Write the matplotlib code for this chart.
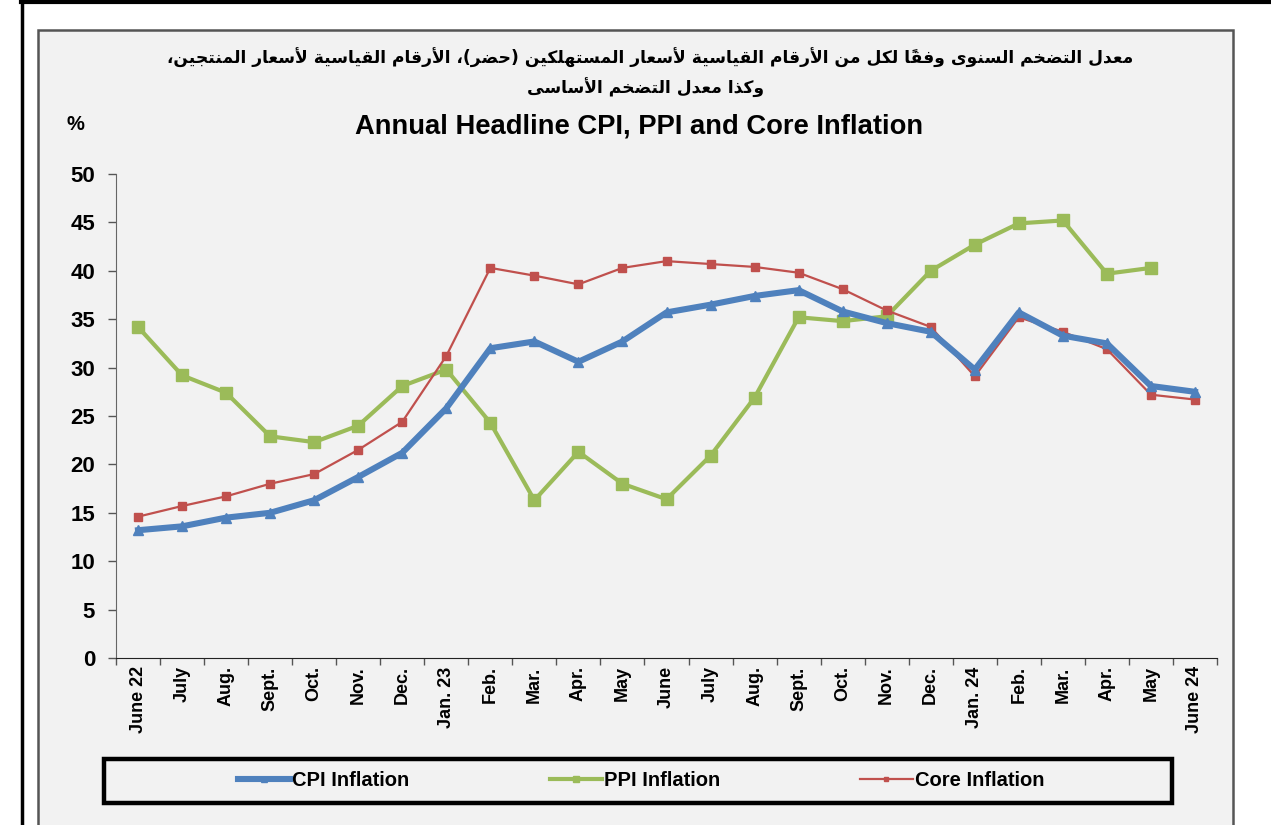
import numpy as np
import matplotlib
matplotlib.use("Agg")
import matplotlib.pyplot as plt
from matplotlib.patches import Rectangle
from matplotlib.lines import Line2D

# ---- data ----
months = ["June 22", "July", "Aug.", "Sept.", "Oct.", "Nov.", "Dec.", "Jan. 23",
          "Feb.", "Mar.", "Apr.", "May", "June", "July", "Aug.", "Sept.", "Oct.",
          "Nov.", "Dec.", "Jan. 24", "Feb.", "Mar.", "Apr.", "May", "June 24"]
cpi = [13.2, 13.6, 14.5, 15.0, 16.3, 18.7, 21.2, 25.8, 32.0, 32.7, 30.6, 32.7, 35.7,
       36.5, 37.4, 38.0, 35.8, 34.6, 33.7, 29.8, 35.7, 33.3, 32.5, 28.1, 27.5]
ppi = [34.2, 29.2, 27.4, 22.9, 22.3, 24.0, 28.1, 29.8, 24.3, 16.3, 21.3, 18.0, 16.4,
       20.9, 26.9, 35.2, 34.8, 35.3, 40.0, 42.7, 44.9, 45.2, 39.7, 40.3, np.nan]
core = [14.6, 15.7, 16.7, 18.0, 19.0, 21.5, 24.4, 31.2, 40.3, 39.5, 38.6, 40.3, 41.0,
        40.7, 40.4, 39.8, 38.1, 35.9, 34.2, 29.1, 35.2, 33.7, 31.9, 27.2, 26.7]

title_ar_1 = "معدل التضخم السنوى وفقاً لكل من الأرقام القياسية لأسعار المستهلكين (حضر)، الأرقام القياسية لأسعار المنتجين،"
title_ar_2 = "وكذا معدل التضخم الأساسى"
title_en = "Annual Headline CPI, PPI and Core Inflation"

# ---- minimal arabic shaping (matplotlib has no bidi / joining) ----
# isolated, final, initial, medial
FORMS = {
    "ا": (0xFE8D, 0xFE8E), "أ": (0xFE83, 0xFE84), "ة": (0xFE93, 0xFE94),
    "د": (0xFEA9, 0xFEAA), "ذ": (0xFEAB, 0xFEAC), "ر": (0xFEAD, 0xFEAE),
    "و": (0xFEED, 0xFEEE), "ى": (0xFEEF, 0xFEF0),
    "ب": (0xFE8F, 0xFE90, 0xFE91, 0xFE92), "ت": (0xFE95, 0xFE96, 0xFE97, 0xFE98),
    "ج": (0xFE9D, 0xFE9E, 0xFE9F, 0xFEA0), "ح": (0xFEA1, 0xFEA2, 0xFEA3, 0xFEA4),
    "خ": (0xFEA5, 0xFEA6, 0xFEA7, 0xFEA8), "س": (0xFEB1, 0xFEB2, 0xFEB3, 0xFEB4),
    "ض": (0xFEBD, 0xFEBE, 0xFEBF, 0xFEC0), "ع": (0xFEC9, 0xFECA, 0xFECB, 0xFECC),
    "ف": (0xFED1, 0xFED2, 0xFED3, 0xFED4), "ق": (0xFED5, 0xFED6, 0xFED7, 0xFED8),
    "ك": (0xFED9, 0xFEDA, 0xFEDB, 0xFEDC), "ل": (0xFEDD, 0xFEDE, 0xFEDF, 0xFEE0),
    "م": (0xFEE1, 0xFEE2, 0xFEE3, 0xFEE4), "ن": (0xFEE5, 0xFEE6, 0xFEE7, 0xFEE8),
    "ه": (0xFEE9, 0xFEEA, 0xFEEB, 0xFEEC), "ي": (0xFEF1, 0xFEF2, 0xFEF3, 0xFEF4),
    "لا": (0xFEFB, 0xFEFC), "لأ": (0xFEF7, 0xFEF8),
}
MARKS = "\u064b\u064c\u064d\u064e\u064f\u0650\u0651\u0652"


def shape_ar(text):
    tokens = []
    i = 0
    while i < len(text):
        ch = text[i]
        if ch in MARKS and tokens:
            tokens[-1][1] += ch
        elif ch == "ل" and i + 1 < len(text) and text[i + 1] in "اأ":
            tokens.append(["ل" + text[i + 1], ""])
            i += 1
        else:
            tokens.append([ch, ""])
        i += 1
    out = []
    for k, (key, marks) in enumerate(tokens):
        if key not in FORMS:
            out.append({"(": ")", ")": "("}.get(key, key) + marks)
            continue
        f = FORMS[key]
        prev_ok = k > 0 and tokens[k - 1][0] in FORMS and len(FORMS[tokens[k - 1][0]]) == 4
        next_ok = len(f) == 4 and k + 1 < len(tokens) and tokens[k + 1][0] in FORMS
        if prev_ok and next_ok:
            code = f[3]
        elif prev_ok:
            code = f[1]
        elif next_ok:
            code = f[2]
        else:
            code = f[0]
        out.append(chr(code) + marks)
    return "".join(reversed(out))


blue = "#4f81bd"
green = "#9bbb59"
red = "#c0504d"
panel = "#f2f2f2"
EN = "Liberation Sans"

fig = plt.figure(figsize=(12.71, 8.25), dpi=100)
W, H = 1271, 825


def fx(px):
    return px / W


def fy(py):
    return 1 - py / H


# outer frame lines and the grey chart panel (kept below the axes)
fig.add_artist(Line2D([fx(22), fx(22)], [fy(0), fy(830)], color="black", lw=2.5, zorder=-20))
fig.add_artist(Line2D([fx(21), 1.0], [fy(1.5), fy(1.5)], color="black", lw=3, zorder=-20))
fig.add_artist(Rectangle((fx(38), fy(830)), fx(1233 - 38), (830 - 30) / H,
                         facecolor=panel, edgecolor="#555555", lw=1.8, zorder=-10))

ax = fig.add_axes([fx(116), fy(658), fx(1217 - 116), (658 - 174) / H])
ax.set_facecolor(panel)
x = np.arange(len(months))

ax.plot(x, ppi, color=green, lw=3.0, marker="s", ms=8, label="PPI Inflation", zorder=2)
ax.plot(x, core, color=red, lw=1.6, marker="s", ms=5.5, label="Core Inflation", zorder=3)
ax.plot(x, cpi, color=blue, lw=4.4, marker="^", ms=7.5, label="CPI Inflation", zorder=4)

ax.set_xlim(-0.5, len(months) - 0.5)
ax.set_ylim(0, 50)
ax.set_yticks(range(0, 51, 5))
ax.set_xticks(x)
ax.set_xticklabels(months, rotation=90, fontsize=13, fontweight="bold", family=EN)
ax.set_xticks(np.arange(-0.5, len(months), 1), minor=True)
ax.tick_params(axis="x", which="major", length=0, pad=6)
ax.tick_params(axis="x", which="minor", length=5, color="#555555", width=1)
ax.tick_params(axis="y", length=6, color="#555555", width=1, pad=9)
for lab in ax.get_yticklabels():
    lab.set_fontsize(16)
    lab.set_fontweight("bold")
    lab.set_family(EN)
for side in ["top", "right"]:
    ax.spines[side].set_visible(False)
ax.spines["left"].set_color("#666666")
ax.spines["bottom"].set_color("#222222")

# titles
fig.text(fx(650), fy(58), shape_ar(title_ar_1), ha="center", va="center",
         fontsize=12.3, fontweight="bold", family="DejaVu Sans")
fig.text(fx(646), fy(88), shape_ar(title_ar_2), ha="center", va="center",
         fontsize=12.3, fontweight="bold", family="DejaVu Sans")
fig.text(fx(639), fy(127), title_en, ha="center", va="center",
         fontsize=19.7, fontweight="bold", family=EN)
fig.text(fx(75), fy(124), "%", ha="center", va="center",
         fontsize=14.5, fontweight="bold", family=EN)

# legend in a thick black box
fig.add_artist(Rectangle((fx(104), fy(803)), fx(1172 - 104), (803 - 759) / H,
                         facecolor="none", edgecolor="black", lw=3.2))
h, l = ax.get_legend_handles_labels()
order = [2, 0, 1]
leg = fig.legend([h[i] for i in order], [l[i] for i in order], ncol=3,
                 loc="center", bbox_to_anchor=(fx(641), fy(781)), frameon=False,
                 prop={"family": EN, "weight": "bold", "size": 14.5},
                 handlelength=2.6, handletextpad=0.1, columnspacing=6.95,
                 markerscale=0.6)

fig.savefig("out.png", dpi=100, facecolor="white")
